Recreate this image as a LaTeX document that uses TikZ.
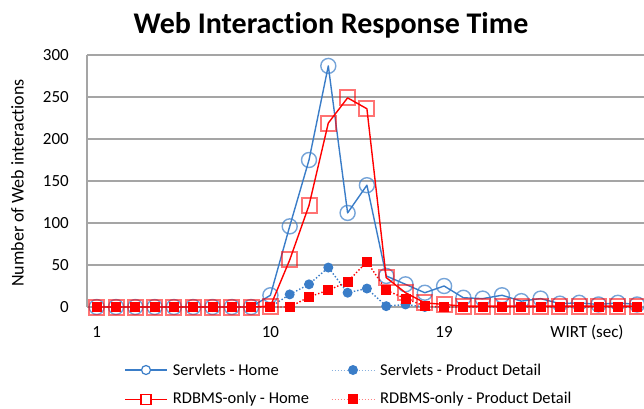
\documentclass[tikz,border=0pt]{standalone}
\usepackage{fontspec}
\setmainfont{Carlito}[RawFeature={-liga;-dlig}]
\definecolor{serblue}{RGB}{58,125,200}
\definecolor{gridgray}{RGB}{165,165,165}
\definecolor{rdbred}{RGB}{255,0,0}
\tikzset{
  gridline/.style={draw=gridgray,line width=1.3pt},
  ticklabel/.style={font=\fontsize{17}{17}\selectfont,inner sep=0pt},
  legendtext/.style={font=\fontsize{16.5}{16.5}\selectfont,anchor=west,inner sep=0pt},
  shline/.style={draw=serblue,line width=1.4pt,line join=round},
  spdline/.style={draw=serblue,line width=1.4pt,dotted},
  rhline/.style={draw=rdbred,line width=1.4pt,line join=round},
  rpdline/.style={draw=rdbred,line width=1.4pt,dotted},
  shmark/.style={circle,draw=serblue,draw opacity=0.7,line width=1.4pt,minimum size=15pt,inner sep=0pt},
  spdmark/.style={circle,fill=serblue,minimum size=10pt,inner sep=0pt},
  rhmark/.style={rectangle,draw=rdbred,draw opacity=0.55,line width=2pt,minimum size=15pt,inner sep=0pt},
  rpdmark/.style={rectangle,fill=rdbred,minimum size=10pt,inner sep=0pt},
  declare function={cx(\k)=96.7+(\k-1)*19.3; vy(\v)=101+0.84*\v;}
}
\begin{document}
\begin{tikzpicture}[x=1pt,y=1pt]
\useasboundingbox (0,0) rectangle (644,408);

% title
\node[font=\fontsize{30}{30}\selectfont\bfseries,anchor=base,inner sep=0pt] (title) at (331,374) {Web Interaction Response Time};

% horizontal grid and value axis
\foreach \g in {0,50,...,300}{
  \draw[gridline] (87,{vy(\g)}) -- (644,{vy(\g)});
  \node[ticklabel,anchor=east] (yl\g) at (69,{vy(\g)}) {\g};
}
\draw[gridline] (87,{vy(0)}) -- (87,{vy(300)});

% axis titles and category labels
\node[font=\fontsize{18}{18}\selectfont,rotate=90,inner sep=0pt] (ytitle) at (17.5,225) {Number of Web interactions};
\node[ticklabel] (xl1) at ({cx(1)},76) {1};
\node[ticklabel] (xl10) at ({cx(10)},76) {10};
\node[ticklabel] (xl19) at ({cx(19)},76) {19};
\node[ticklabel] (xtitle) at (587,76) {WIRT (sec)};

% data points
\foreach \v [count=\k] in {0,0,0,0,0,0,0,0,0,14,96,175,287,112,145,37,27,17,25,11,10,14,7,10,4,5,3,5,3}
  \coordinate (sh\k) at ({cx(\k)},{vy(\v)});
\foreach \v [count=\k] in {0,0,0,0,0,0,0,0,0,0,15,27,47,17,22,1,3,0,0,0,0,0,0,0,0,0,0,0,0}
  \coordinate (spd\k) at ({cx(\k)},{vy(\v)});
\foreach \v [count=\k] in {0,0,0,0,0,0,0,0,0,1,56,121,219,249,236,35,17,5,3,1,1,1,1,1,1,1,1,1,1}
  \coordinate (rh\k) at ({cx(\k)},{vy(\v)});
\foreach \v [count=\k] in {0,0,0,0,0,0,0,0,0,0,0,12,20,30,54,20,10,1,0,0,0,0,0,0,0,0,0,0,0}
  \coordinate (rpd\k) at ({cx(\k)},{vy(\v)});

% Servlets - Home
\draw[shline] (sh1) \foreach \k in {2,...,29}{ -- (sh\k)};
\foreach \k in {1,...,29} \node[shmark] (shm\k) at (sh\k) {};
% Servlets - Product Detail
\draw[spdline] (spd1) \foreach \k in {2,...,29}{ -- (spd\k)};
\foreach \k in {1,...,29} \node[spdmark] (spdm\k) at (spd\k) {};
% RDBMS-only - Home
\draw[rhline] (rh1) \foreach \k in {2,...,29}{ -- (rh\k)};
\foreach \k in {1,...,29} \node[rhmark] (rhm\k) at (rh\k) {};
% RDBMS-only - Product Detail
\draw[rpdline] (rpd1) \foreach \k in {2,...,29}{ -- (rpd\k)};
\foreach \k in {1,...,29} \node[rpdmark] (rpdm\k) at (rpd\k) {};

% legend
\coordinate (la1) at (125,38);   \coordinate (lb1) at (167,38);
\coordinate (la2) at (331.7,38); \coordinate (lb2) at (374,38);
\coordinate (la3) at (125,8.7);  \coordinate (lb3) at (167,8.7);
\coordinate (la4) at (331.7,8.7);\coordinate (lb4) at (374,8.7);
\draw[shline] (la1) -- (lb1);
\node[circle,draw=serblue,line width=1.2pt,minimum size=9pt,inner sep=0pt,fill=white] (lm1) at (146,38) {};
\node[legendtext] (lt1) at (172.7,38) {Servlets - Home};
\draw[draw=serblue!60,line width=1pt,dotted] (la2) -- (lb2);
\node[spdmark,minimum size=10pt] (lm2) at (353,38) {};
\node[legendtext] (lt2) at (380,38) {Servlets - Product Detail};
\draw[rhline] (la3) -- (lb3);
\node[rectangle,draw=rdbred,line width=1.2pt,minimum size=10pt,inner sep=0pt,fill=white] (lm3) at (146,8.7) {};
\node[legendtext] (lt3) at (172.7,8.7) {RDBMS-only - Home};
\draw[draw=rdbred!50,line width=1pt,dotted] (la4) -- (lb4);
\node[rpdmark,minimum size=10pt] (lm4) at (353,8.7) {};
\node[legendtext] (lt4) at (380,8.7) {RDBMS-only - Product Detail};
\end{tikzpicture}
\end{document}
